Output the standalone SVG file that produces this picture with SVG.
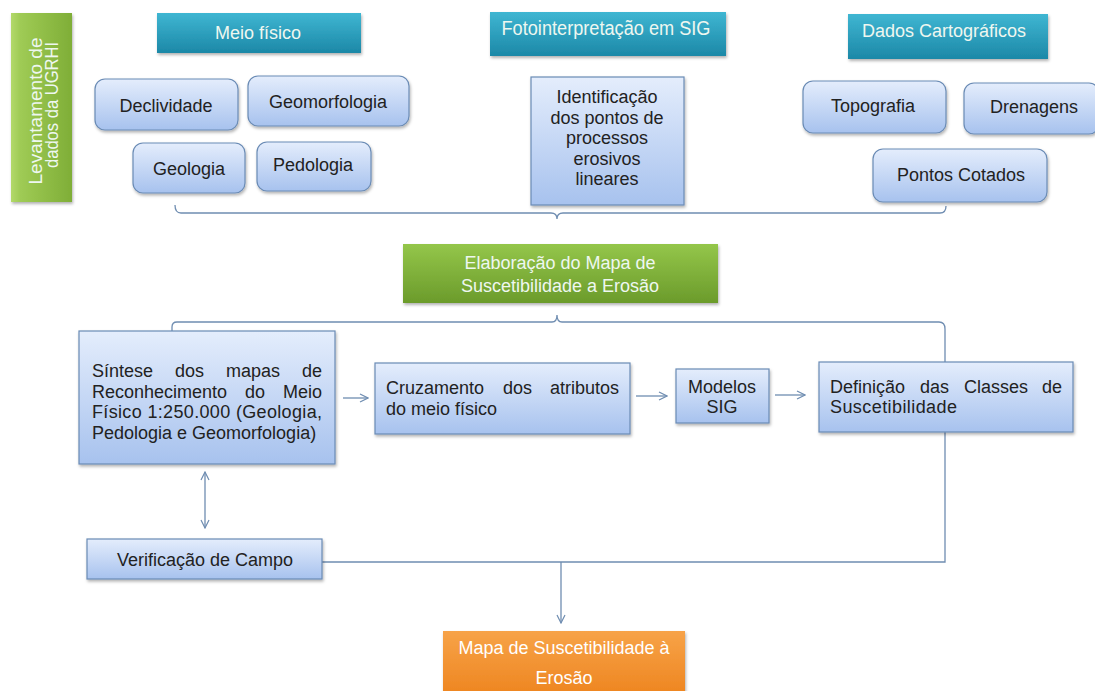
<svg xmlns="http://www.w3.org/2000/svg" width="1095" height="691" viewBox="0 0 1095 691">
<defs>
<linearGradient id="gTeal" x1="0" y1="0" x2="0" y2="1"><stop offset="0" stop-color="#3fb6d2"/><stop offset="1" stop-color="#1c88a7"/></linearGradient>
<linearGradient id="gGreen" x1="0" y1="0" x2="0" y2="1"><stop offset="0" stop-color="#94c64a"/><stop offset="1" stop-color="#6b9b2b"/></linearGradient>
<linearGradient id="gGreenV" x1="0" y1="0" x2="1" y2="0"><stop offset="0" stop-color="#b3d96a"/><stop offset="0.15" stop-color="#9fcb55"/><stop offset="1" stop-color="#7fae37"/></linearGradient>
<linearGradient id="gBlue" x1="0" y1="0" x2="0" y2="1"><stop offset="0" stop-color="#e4edfc"/><stop offset="1" stop-color="#a7c2ee"/></linearGradient>
<linearGradient id="gOrange" x1="0" y1="0" x2="0" y2="1"><stop offset="0" stop-color="#f7a348"/><stop offset="1" stop-color="#ee8520"/></linearGradient>
<filter id="sh" x="-10%" y="-10%" width="130%" height="140%"><feDropShadow dx="1" dy="2" stdDeviation="1.5" flood-color="#000" flood-opacity="0.3"/></filter>
<marker id="ah" markerWidth="10" markerHeight="10" refX="9" refY="5" orient="auto-start-reverse" markerUnits="userSpaceOnUse"><path d="M1,1 L9,5 L1,9" fill="none" stroke="#6f8db1" stroke-width="1.2"/></marker>
<style>
.hdr{fill:url(#gTeal);filter:url(#sh)}
.grn{fill:url(#gGreen);filter:url(#sh)}
.blue{fill:url(#gBlue);stroke:#6a8bb5;stroke-width:1.2;filter:url(#sh)}
.org{fill:url(#gOrange);filter:url(#sh)}
.t{font-family:"Liberation Sans",Arial,sans-serif;font-size:18px;fill:#222}
.tw{font-family:"Liberation Sans",Arial,sans-serif;font-size:18px;fill:#eef7f0}
.c{text-anchor:middle}
.e{text-anchor:end}
.ln{fill:none;stroke:#6f8db1;stroke-width:1.3}
</style>
</defs>
<rect width="1095" height="691" fill="#ffffff"/>

<g id="connectors">
<path class="ln" d="M175,205 Q175,213 181,213 L551,213 Q557,213 557,219 Q557,213 563,213 L940,213 Q946,213 946,206"/>
<path class="ln" d="M172,331 L172,327 Q172,322 177,322 L552,322 Q557,322 557,315 Q557,322 562,322 L939,322 Q945,322 945,329 L945,562 L322,562"/>
<line class="ln" x1="561" y1="562" x2="561" y2="623" marker-end="url(#ah)"/>
<line class="ln" x1="205" y1="472" x2="205" y2="528" marker-start="url(#ah)" marker-end="url(#ah)"/>
<line class="ln" x1="343" y1="398" x2="368" y2="398" marker-end="url(#ah)"/>
<line class="ln" x1="636" y1="396" x2="667" y2="396" marker-end="url(#ah)"/>
<line class="ln" x1="775" y1="395" x2="805" y2="395" marker-end="url(#ah)"/>
</g>

<g id="levantamento">
<rect x="11" y="13" width="61" height="189" fill="url(#gGreenV)" filter="url(#sh)"/>
<text class="tw c" transform="translate(42,111) rotate(-90)" textLength="147" lengthAdjust="spacingAndGlyphs">Levantamento de</text>
<text class="tw c" transform="translate(58,105) rotate(-90)" textLength="126" lengthAdjust="spacingAndGlyphs">dados da UGRHI</text>
</g>

<g id="meio-fisico">
<rect class="hdr" x="157" y="13" width="204" height="40"/>
<text class="tw c" x="258" y="39">Meio físico</text>
</g>
<g id="fotointerpretacao">
<rect class="hdr" x="490" y="12" width="236" height="44"/>
<text class="tw c" x="606" y="35" style="font-size:20px" textLength="209" lengthAdjust="spacingAndGlyphs">Fotointerpretação em SIG</text>
</g>
<g id="dados-cartograficos">
<rect class="hdr" x="848" y="14" width="200" height="45"/>
<text class="tw c" x="944" y="37">Dados Cartográficos</text>
</g>

<g id="declividade">
<rect class="blue" x="95" y="79" width="143" height="51" rx="10"/>
<text class="t c" x="166" y="112">Declividade</text>
</g>
<g id="geomorfologia">
<rect class="blue" x="248" y="76" width="161" height="50" rx="10"/>
<text class="t c" x="328" y="108">Geomorfologia</text>
</g>
<g id="geologia">
<rect class="blue" x="133" y="143" width="112" height="50" rx="10"/>
<text class="t c" x="189" y="175">Geologia</text>
</g>
<g id="pedologia">
<rect class="blue" x="257" y="142" width="114" height="49" rx="10"/>
<text class="t c" x="313" y="171">Pedologia</text>
</g>

<g id="identificacao">
<rect class="blue" x="531" y="77" width="153" height="128"/>
<text class="t c" x="607" y="103">Identificação</text>
<text class="t c" x="607" y="123.5">dos pontos de</text>
<text class="t c" x="607" y="144">processos</text>
<text class="t c" x="607" y="164.5">erosivos</text>
<text class="t c" x="607" y="185">lineares</text>
</g>

<g id="topografia">
<rect class="blue" x="803" y="81" width="143" height="52" rx="10"/>
<text class="t c" x="873" y="112">Topografia</text>
</g>
<g id="drenagens">
<rect class="blue" x="964" y="83" width="135" height="51" rx="10"/>
<text class="t c" x="1034" y="113">Drenagens</text>
</g>
<g id="pontos-cotados">
<rect class="blue" x="873" y="149" width="174" height="53" rx="10"/>
<text class="t c" x="961" y="181">Pontos Cotados</text>
</g>

<g id="elaboracao">
<rect class="grn" x="403" y="244" width="315" height="59"/>
<text class="tw c" x="560" y="269">Elaboração do Mapa de</text>
<text class="tw c" x="560" y="292">Suscetibilidade a Erosão</text>
</g>

<g id="sintese">
<rect class="blue" x="79" y="331" width="256" height="133"/>
<text class="t" x="92" y="377">Síntese</text>
<text class="t" x="175" y="377">dos</text>
<text class="t" x="226" y="377">mapas</text>
<text class="t e" x="322" y="377">de</text>
<text class="t" x="92" y="397.5">Reconhecimento</text>
<text class="t" x="245" y="397.5">do</text>
<text class="t e" x="322" y="397.5">Meio</text>
<text class="t" x="92" y="418" textLength="230" lengthAdjust="spacing">Físico 1:250.000 (Geologia,</text>
<text class="t" x="92" y="438.5">Pedologia e Geomorfologia)</text>
</g>

<g id="cruzamento">
<rect class="blue" x="375" y="363" width="255" height="71"/>
<text class="t" x="386" y="394">Cruzamento</text>
<text class="t" x="503" y="394">dos</text>
<text class="t e" x="619" y="394">atributos</text>
<text class="t" x="386" y="415">do meio físico</text>
</g>

<g id="modelos">
<rect class="blue" x="676" y="369" width="93" height="54"/>
<text class="t c" x="722" y="393">Modelos</text>
<text class="t c" x="722" y="413">SIG</text>
</g>

<g id="definicao">
<rect class="blue" x="819" y="362" width="254" height="70"/>
<text class="t" x="830" y="393">Definição</text>
<text class="t" x="920" y="393">das</text>
<text class="t" x="964" y="393">Classes</text>
<text class="t e" x="1062" y="393">de</text>
<text class="t" x="830" y="413" textLength="127" lengthAdjust="spacing">Suscetibilidade</text>
</g>

<g id="verificacao">
<rect class="blue" x="87" y="539" width="235" height="40"/>
<text class="t c" x="205" y="566">Verificação de Campo</text>
</g>

<g id="mapa-final">
<rect class="org" x="443" y="631" width="242" height="64"/>
<text class="tw c" x="564" y="654" style="fill:#fff">Mapa de Suscetibilidade à</text>
<text class="tw c" x="564" y="684" style="fill:#fff">Erosão</text>
</g>
</svg>
